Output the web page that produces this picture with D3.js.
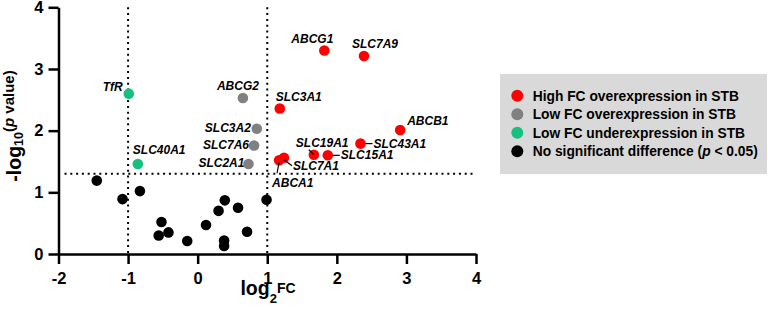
<!DOCTYPE html>
<html>
<head>
<meta charset="utf-8">
<script src="https://cdn.jsdelivr.net/npm/d3@7"></script>
<style>
    body { margin: 0; background: #fff; }
    svg text { font-family: "Liberation Sans", Arial, sans-serif; font-weight: bold; }
</style>
</head>
<body>
<div id="chart"></div>
<script>
// genes ("" = unlabelled point)
const genes = ["ABCG1", "SLC7A9", "TfR", "ABCG2", "SLC3A1", "ABCB1", "SLC3A2", "SLC7A6",
    "SLC43A1", "SLC40A1", "SLC2A1", "ABCA1", "SLC7A1", "SLC19A1", "SLC15A1",
    "", "", "", "", "", "", "", "", "", "", "", "", "", "", ""];
const log2FC = [1.82, 2.39, -0.99, 0.65, 1.18, 2.91, 0.85, 0.81,
    2.34, -0.86, 0.73, 1.17, 1.24, 1.67, 1.87,
    -1.45, -1.08, -0.83, -0.52, -0.56, -0.42, -0.15, 0.12, 0.30, 0.39, 0.58, 0.38, 0.38, 0.71, 0.99];
const negLog10P = [3.30, 3.21, 2.60, 2.53, 2.36, 2.01, 2.03, 1.76,
    1.79, 1.46, 1.46, 1.52, 1.56, 1.61, 1.60,
    1.19, 0.89, 1.02, 0.52, 0.30, 0.35, 0.21, 0.47, 0.70, 0.87, 0.75, 0.22, 0.13, 0.36, 0.88];
// 0 high FC over, 1 low FC over, 2 low FC under, 3 not significant
const groups = [0, 0, 2, 1, 0, 0, 1, 1, 0, 2, 1, 0, 0, 0, 0,
    3, 3, 3, 3, 3, 3, 3, 3, 3, 3, 3, 3, 3, 3, 3];

const legendLabels = ["High FC overexpression in STB", "Low FC overexpression in STB",
    "Low FC underexpression in STB", "No significant difference"];
const xTicks = [-2, -1, 0, 1, 2, 3, 4];
const yTicks = [0, 1, 2, 3, 4];
const fcCutoffs = [-1, 1];
const pCutoff = 1.3;

const colors = ["#ff0000", "#808080", "#16c07f", "#000000"];

// label placement relative to the point: dx, dy, anchor, optional leader line
const labelPos = {
    ABCG1: { dx: -33, dy: -7, anchor: "start" },
    SLC7A9: { dx: -12, dy: -8, anchor: "start" },
    TfR: { dx: -6, dy: -3, anchor: "end" },
    ABCG2: { dx: -26, dy: -8, anchor: "start" },
    SLC3A1: { dx: -4, dy: -7, anchor: "start" },
    ABCB1: { dx: 7, dy: -5, anchor: "start" },
    SLC3A2: { dx: -6, dy: 3, anchor: "end" },
    SLC7A6: { dx: -5, dy: 4, anchor: "end" },
    SLC2A1: { dx: -4, dy: 3, anchor: "end" },
    SLC40A1: { dx: -5, dy: -10, anchor: "start" },
    SLC43A1: { dx: 13, dy: 4, anchor: "start", line: [5, 0, 12, 0] },
    SLC15A1: { dx: 13, dy: 4, anchor: "start", line: [5, 0, 12, 0] },
    SLC19A1: { dx: -18, dy: -8, anchor: "start", line: [-5, -5, 0, 0] },
    SLC7A1: { dx: 9, dy: 12, anchor: "start", line: [0, 2, 8, 8] },
    ABCA1: { dx: -7, dy: 27, anchor: "start", line: [0, 2, -2, 13] }
};

const W = 768, H = 310;
const svg = d3.select("#chart").append("svg")
    .attr("width", W)
    .attr("height", H);

const x = d3.scaleLinear().domain([-2, 4]).range([58.5, 476]);
const y = d3.scaleLinear().domain([0, 4]).range([254, 7.3]);

// threshold lines
svg.selectAll(".vcut")
    .data(fcCutoffs)
    .enter()
    .append("line")
    .attr("x1", d => x(d)).attr("x2", d => x(d))
    .attr("y1", y(4)).attr("y2", y(0))
    .attr("stroke", "#000")
    .attr("stroke-width", 2)
    .attr("stroke-dasharray", "2 3.8");

svg.append("line")
    .attr("x1", x(-2) + 6).attr("x2", x(4))
    .attr("y1", y(pCutoff)).attr("y2", y(pCutoff))
    .attr("stroke", "#000")
    .attr("stroke-width", 2)
    .attr("stroke-dasharray", "2 3.8");

// axes
const xAxis = svg.append("g")
    .attr("transform", `translate(0,${y(0)})`)
    .call(d3.axisBottom(x).tickValues(xTicks).tickFormat(d => String(d))
        .tickSize(10).tickSizeOuter(0).tickPadding(8));

const yAxis = svg.append("g")
    .attr("transform", `translate(${x(-2)},0)`)
    .call(d3.axisLeft(y).tickValues(yTicks).tickFormat(d => String(d))
        .tickSize(10).tickSizeOuter(0).tickPadding(5));

[xAxis, yAxis].forEach(g => {
    g.select(".domain").attr("stroke-width", 2.5);
    g.selectAll(".tick line").attr("stroke-width", 2.5);
    g.selectAll(".tick text")
        .style("font-size", "16.5px")
        .style("font-family", "'Liberation Sans', Arial, sans-serif")
        .style("font-weight", "bold")
        .attr("fill", "#000");
});

// axis titles
const xTitle = svg.append("text")
    .attr("x", 268)
    .attr("y", 295)
    .attr("text-anchor", "middle");
xTitle.append("tspan").style("font-size", "19.5px").text("log");
xTitle.append("tspan").style("font-size", "13px").attr("dy", 8).text("2");
xTitle.append("tspan").style("font-size", "14px").attr("dy", -10.5).text("FC");

const yTitle = svg.append("text")
    .attr("transform", "translate(21,126) rotate(-90)")
    .attr("text-anchor", "middle");
yTitle.append("tspan").style("font-size", "19.5px").text("-log");
yTitle.append("tspan").style("font-size", "12.5px").attr("dy", 2).text("10");
yTitle.append("tspan").style("font-size", "15px").attr("dy", -9.5).text("(");
yTitle.append("tspan").style("font-size", "15px").style("font-style", "italic").text("p");
yTitle.append("tspan").style("font-size", "15px").text(" value)");

// points
const points = genes.map((g, i) => ({ gene: g, fc: log2FC[i], p: negLog10P[i], group: groups[i] }));

svg.selectAll(".dot")
    .data(points)
    .enter()
    .append("circle")
    .attr("class", "dot")
    .attr("cx", d => x(d.fc))
    .attr("cy", d => y(d.p))
    .attr("r", 5.3)
    .attr("fill", d => colors[d.group]);

// gene labels
const labelled = points.filter(d => d.gene !== "");

svg.selectAll(".leader")
    .data(labelled.filter(d => labelPos[d.gene].line))
    .enter()
    .append("line")
    .attr("x1", d => x(d.fc) + labelPos[d.gene].line[0])
    .attr("y1", d => y(d.p) + labelPos[d.gene].line[1])
    .attr("x2", d => x(d.fc) + labelPos[d.gene].line[2])
    .attr("y2", d => y(d.p) + labelPos[d.gene].line[3])
    .attr("stroke", "#000")
    .attr("stroke-width", 1.2);

svg.selectAll(".glabel")
    .data(labelled)
    .enter()
    .append("text")
    .attr("class", "glabel")
    .attr("x", d => x(d.fc) + labelPos[d.gene].dx)
    .attr("y", d => y(d.p) + labelPos[d.gene].dy)
    .attr("text-anchor", d => labelPos[d.gene].anchor)
    .style("font-size", "12px")
    .style("font-style", "italic")
    .text(d => d.gene);

// legend
const legend = svg.append("g").attr("transform", "translate(500,74)");
legend.append("rect")
    .attr("width", 267)
    .attr("height", 100)
    .attr("fill", "#d9d9d9");

const rows = legend.selectAll(".row")
    .data(legendLabels)
    .enter()
    .append("g")
    .attr("transform", (d, i) => `translate(0,${21.7 + i * 18.5})`);

rows.append("circle")
    .attr("cx", 17.3)
    .attr("r", 6)
    .attr("fill", (d, i) => colors[i]);

const rowText = rows.append("text")
    .attr("x", 32.7)
    .attr("dy", "0.36em")
    .style("font-size", "13.8px");
rowText.append("tspan").text(d => d);
rowText.filter((d, i) => i === 3).each(function () {
    const t = d3.select(this);
    t.append("tspan").text(" (");
    t.append("tspan").style("font-style", "italic").text("p");
    t.append("tspan").text(" < 0.05)");
});
</script>
</body>
</html>
